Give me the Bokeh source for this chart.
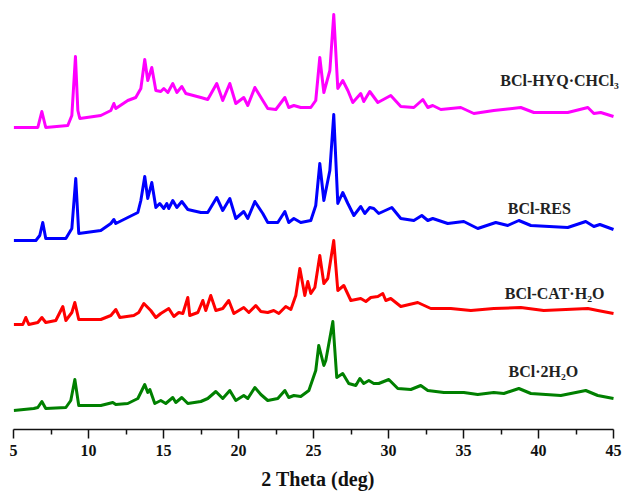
from bokeh.plotting import figure
from bokeh.models import Range1d, FixedTicker, Label
from bokeh.embed import file_html
from bokeh.resources import INLINE

# ---------------- data (2-theta in deg, relative intensity a.u.) ----------------
hyq_x = [5.02, 6.62, 6.89, 7.15, 8.62, 8.89, 9.13, 9.29, 9.42, 10.82, 11.49, 11.69, 11.82, 12.62,
         13.15, 13.49, 13.75, 13.95, 14.22, 14.49, 14.82, 15.02, 15.29, 15.62, 15.89, 16.22, 16.49,
         17.49, 17.95, 18.55, 18.95, 19.42, 19.82, 20.35, 20.62, 21.09, 21.62, 21.95, 22.49, 23.09,
         23.35, 23.69, 24.15, 24.82, 25.15, 25.42, 25.69, 26.09, 26.35, 26.62, 26.95, 27.29, 27.62,
         28.15, 28.35, 28.75, 29.29, 30.15, 30.82, 31.69, 32.29, 32.62, 32.95, 33.49, 34.82, 35.69,
         37.02, 38.82, 39.69, 41.95, 43.29, 43.69, 44.15, 45.0]
hyq_y = [0, 0, 16, 0, 2, 12, 71, 17, 9, 12, 17, 24, 19, 27,
         30, 39, 68, 47, 60, 37, 36, 39, 35, 44, 35, 41, 34,
         30, 28, 44, 27, 44, 24, 30, 22, 40, 27, 19, 18, 30,
         20, 22, 20, 20, 27, 70, 35, 57, 113, 39, 47, 37, 25,
         34, 26, 36, 25, 32, 21, 20, 28, 20, 22, 18, 20, 14,
         17, 20, 15, 15, 20, 14, 15, 11]

res_x = [5.02, 6.49, 6.75, 6.95, 7.15, 8.49, 8.89, 9.15, 9.35, 10.82, 11.49, 11.69, 11.82, 12.62,
         13.29, 13.49, 13.75, 13.95, 14.22, 14.49, 14.75, 15.02, 15.22, 15.35, 15.62, 15.89, 16.22,
         16.62, 17.49, 17.95, 18.55, 18.95, 19.42, 19.82, 20.35, 20.62, 21.09, 21.62, 21.95, 22.62,
         23.09, 23.35, 23.69, 24.15, 24.82, 25.15, 25.42, 25.69, 26.09, 26.35, 26.62, 26.95, 27.29,
         27.69, 28.15, 28.42, 28.75, 29.02, 29.35, 30.22, 30.82, 31.69, 32.22, 32.62, 32.95, 33.95,
         35.02, 35.95, 37.15, 37.95, 38.69, 39.49, 41.95, 43.15, 43.69, 44.09, 45.0]
res_y = [0, 0, 5, 18, 2, 2, 12, 62, 7, 10, 17, 21, 17, 23,
         28, 40, 64, 42, 58, 33, 37, 32, 37, 32, 40, 33, 39,
         31, 28, 28, 43, 30, 42, 22, 29, 22, 39, 27, 18, 18,
         29, 18, 22, 18, 20, 35, 77, 40, 70, 126, 37, 48, 37,
         25, 34, 27, 33, 32, 27, 33, 22, 20, 25, 20, 22, 17,
         19, 12, 18, 15, 20, 15, 13, 19, 14, 16, 11]

cat_x = [5.02, 5.62, 5.82, 6.02, 6.62, 6.89, 7.15, 7.82, 8.29, 8.49, 8.89, 9.09, 9.35, 10.82,
         11.49, 11.82, 12.09, 13.02, 13.35, 13.69, 14.02, 14.15, 14.49, 14.82, 15.35, 15.69, 16.02,
         16.29, 16.62, 16.75, 17.29, 17.62, 17.82, 18.15, 18.49, 18.95, 19.35, 19.69, 20.35, 20.69,
         21.15, 21.49, 21.95, 22.35, 22.69, 23.15, 23.49, 23.82, 24.09, 24.42, 24.62, 24.82, 25.09,
         25.42, 25.69, 25.95, 26.35, 26.62, 27.02, 27.49, 28.15, 28.49, 28.82, 29.29, 29.62, 29.82,
         30.15, 30.82, 31.95, 32.82, 34.15, 35.49, 37.02, 38.82, 40.35, 43.29, 43.95, 45.0]
cat_y = [0, 0, 7, 0, 2, 7, 2, 4, 18, 4, 12, 22, 5, 5,
         9, 15, 7, 9, 12, 21, 16, 14, 7, 11, 16, 8, 12,
         11, 27, 9, 12, 24, 14, 29, 14, 16, 24, 11, 17, 12,
         19, 13, 12, 14, 11, 18, 15, 29, 56, 29, 43, 31, 37,
         69, 41, 46, 84, 34, 39, 24, 26, 23, 27, 28, 31, 24,
         26, 18, 22, 16, 16, 14, 16, 17, 14, 16, 14, 11]

h2o_x = [5.02, 6.35, 6.62, 6.89, 7.15, 8.49, 8.82, 9.09, 9.35, 10.82, 11.62, 11.82, 12.62, 13.29,
         13.75, 13.95, 14.09, 14.42, 14.82, 15.15, 15.62, 15.82, 16.22, 16.62, 17.49, 17.95, 18.49,
         18.95, 19.42, 19.82, 20.35, 20.62, 21.09, 21.49, 21.95, 22.62, 23.09, 23.35, 23.69, 24.15,
         24.69, 25.15, 25.35, 25.69, 25.82, 26.29, 26.55, 26.95, 27.35, 27.82, 28.09, 28.35, 28.69,
         29.02, 29.35, 30.02, 30.62, 31.49, 32.15, 32.62, 33.69, 35.02, 35.95, 37.02, 37.69, 38.69,
         39.49, 41.49, 43.15, 43.95, 45.0]
h2o_y = [0, 2, 3, 9, 2, 3, 10, 31, 5, 5, 8, 6, 7, 12,
         26, 18, 21, 7, 10, 7, 13, 8, 13, 7, 9, 12, 19,
         12, 20, 10, 15, 12, 23, 16, 10, 12, 20, 13, 15, 14,
         20, 40, 65, 45, 50, 89, 33, 37, 27, 25, 32, 27, 30,
         27, 27, 31, 22, 21, 25, 20, 18, 18, 16, 18, 17, 22,
         17, 15, 20, 15, 12]

series_names = ["BCl-HYQ\u00b7CHCl\u2083", "BCl-RES", "BCl-CAT\u00b7H\u2082O", "BCl\u00b72H\u2082O"]
series_x = [hyq_x, res_x, cat_x, h2o_x]
series_y = [hyq_y, res_y, cat_y, h2o_y]
offsets = [302, 189, 105, 19]
colors = ["#FF00FF", "#0000FF", "#FF0000", "#008000"]
x_ticks = [5, 10, 15, 20, 25, 30, 35, 40, 45]
x_minor = [7.5, 12.5, 17.5, 22.5, 27.5, 32.5, 37.5, 42.5]

# label anchor positions (left edge, vertical middle)
label_pos = [(37.45, 349), (37.95, 221), (37.75, 136), (38.0, 58)]

FONT = "Liberation Serif"

# x range extended slightly past 45 so the right-hand labels are not clipped;
# the axis line itself is bounded to 5..45
p = figure(width=627, height=495, output_backend="svg", toolbar_location=None,
           x_range=Range1d(5, 45.6), y_range=Range1d(0, 429),
           y_axis_location=None, min_border_left=13, min_border_right=5,
           min_border_top=0, min_border_bottom=66)
p.grid.visible = False
p.outline_line_color = None
p.background_fill_color = "white"
p.border_fill_color = "white"

for xs, ys, off, c in zip(series_x, series_y, offsets, colors):
    p.line(xs, [v + off for v in ys], line_color=c, line_width=3, line_join="round")

for name, (lx, ly) in zip(series_names, label_pos):
    p.add_layout(Label(x=lx, y=ly, text=name, text_font=FONT, text_font_style="bold",
                       text_font_size="16px", text_color="#222222", text_align="left",
                       text_baseline="middle"))

ax = p.xaxis[0]
ax.bounds = (5, 45)
ax.ticker = FixedTicker(ticks=x_ticks, minor_ticks=x_minor)
ax.axis_label = "2 Theta (deg)"
ax.axis_label_text_font = FONT
ax.axis_label_text_font_style = "bold"
ax.axis_label_text_font_size = "20px"
ax.axis_label_text_color = "#111111"
ax.axis_label_standoff = 9
ax.major_label_text_font = FONT
ax.major_label_text_font_style = "bold"
ax.major_label_text_font_size = "16px"
ax.major_label_text_color = "#111111"
ax.major_label_standoff = 6
ax.axis_line_width = 1.5
ax.axis_line_color = "#111111"
ax.major_tick_line_width = 1.5
ax.minor_tick_line_width = 1.5
ax.major_tick_line_color = "#111111"
ax.minor_tick_line_color = "#111111"
ax.major_tick_in = 0
ax.major_tick_out = 9
ax.minor_tick_in = 0
ax.minor_tick_out = 5

open("out.html", "w").write(file_html(p, INLINE))
